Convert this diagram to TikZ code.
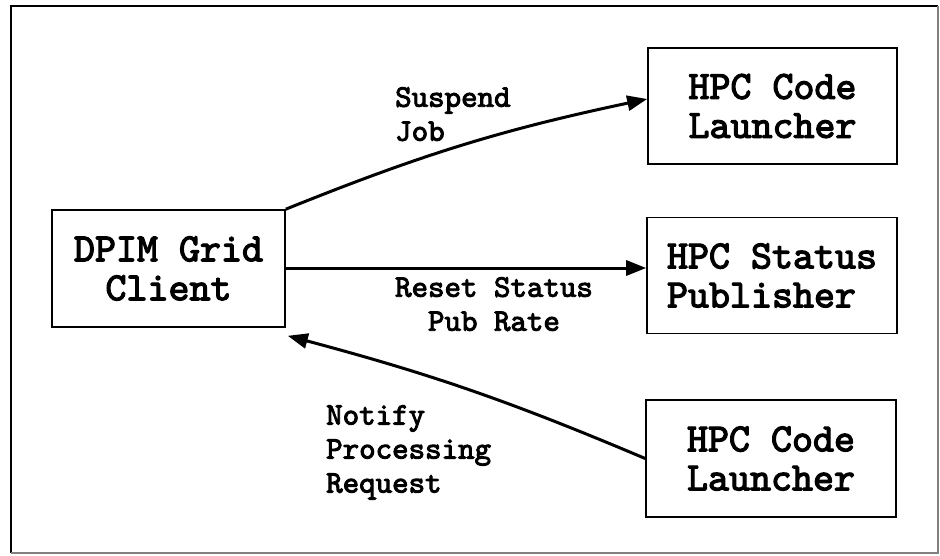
\documentclass[tikz,border=0pt]{standalone}
\usepackage{fontspec}
\newfontfamily\hmono[FakeBold=3]{lmmono10-regular.otf}
\usetikzlibrary{arrows.meta}
\tikzset{
  box/.style={draw, line width=1.6pt, minimum width=250pt, minimum height=116pt,
    inner sep=0pt, font=\hmono\fontsize{40}{39}\selectfont, align=left},
  lbl/.style={inner sep=0pt, font=\hmono\fontsize{31.4}{34}\selectfont},
  conn/.style={line width=3pt, -{Triangle[length=20pt,width=15pt]}}
}
\begin{document}
\begin{tikzpicture}[x=1pt,y=-1pt]
\useasboundingbox (0,0) rectangle (940,555);
% frame
\draw[line width=2.5pt] (11,553) -- (11,6) -- (938,6);
\draw[line width=1.2pt, gray] (11,553) -- (938,553) -- (938,6);
% boxes
\node[box, minimum width=233pt, minimum height=117pt, align=center] (dp) at (168.5,268.5) {DPIM Grid\\Client};
\node[box, minimum width=249pt] (top) at (772.5,106) {HPC Code\\Launcher};
\node[box] (mid) at (772,275.5) {HPC Status\\Publisher};
\node[box, minimum height=117pt] (bot) at (771,458.5) {HPC Code\\Launcher};
% connectors
\draw[conn] (dp.north east) to[bend left=5] ([yshift=7pt]top.west);
\draw[conn] (dp.east |- 0,268) -- (mid.west |- 0,268);
\draw[conn] (bot.west) to[bend right=4] ([xshift=2pt,yshift=-8pt]dp.south east);
% labels
\node[lbl, anchor=north west, align=left] (l1) at (395,87) {Suspend\\Job};
\node[lbl, anchor=north, align=center] (l2) at (494,277) {Reset Status\\Pub Rate};
\node[lbl, anchor=north west, align=left] (l3) at (326,405) {Notify\\Processing\\Request};
\end{tikzpicture}
\end{document}
